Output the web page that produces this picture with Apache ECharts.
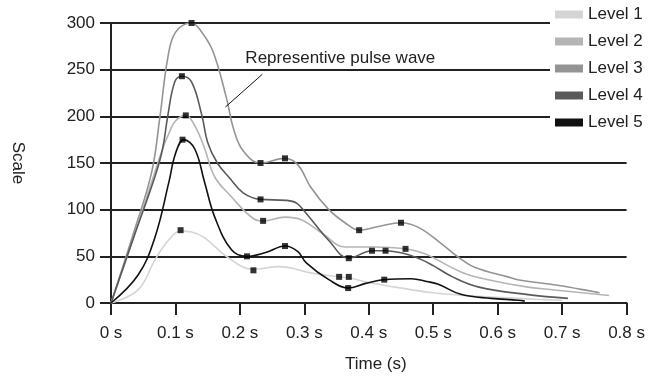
<!DOCTYPE html>
<html>
<head>
<meta charset="utf-8">
<script src="https://cdn.jsdelivr.net/npm/echarts@6/dist/echarts.min.js"></script>
<style>
html,body{margin:0;padding:0;background:#fff;}
#chart{width:648px;height:379px;}
</style>
</head>
<body>
<div id="chart"></div>
<script>
// ---- data ----
const levelNames = ['Level 1', 'Level 2', 'Level 3', 'Level 4', 'Level 5'];
const levelColors = ['#d4d4d4', '#b4b4b4', '#949494', '#5a5a5a', '#111111'];

// [time (s), scale]
const level1 = [[0,0],[0.042,14],[0.068,46],[0.09,68],[0.108,77],[0.125,76],[0.145,70],[0.181,49],[0.221,36],[0.261,39],[0.312,32],[0.354,28],[0.369,27],[0.4,22],[0.45,16],[0.5,11],[0.55,8],[0.6,6],[0.66,4],[0.7,3]];
const level2 = [[0,0],[0.035,70],[0.068,140],[0.08,165],[0.09,182],[0.1,195],[0.116,201],[0.13,190],[0.145,166],[0.161,135],[0.184,116],[0.222,90],[0.236,88],[0.27,92],[0.296,89],[0.327,75],[0.364,60],[0.41,60],[0.457,58],[0.477,55],[0.493,51],[0.544,33],[0.585,25],[0.647,17],[0.688,14],[0.773,8]];
const level3 = [[0,0],[0.035,75],[0.063,140],[0.076,200],[0.088,262],[0.1,290],[0.125,300],[0.14,291],[0.158,270],[0.179,220],[0.19,187],[0.205,163],[0.232,150],[0.27,155],[0.29,148],[0.31,124],[0.338,100],[0.363,86],[0.385,78],[0.415,82],[0.45,86],[0.477,81],[0.512,64],[0.539,49],[0.565,38],[0.616,28],[0.631,25],[0.693,19],[0.75,12],[0.758,11]];
const level4 = [[0,0],[0.035,70],[0.068,135],[0.08,165],[0.088,200],[0.099,237],[0.11,243],[0.125,237],[0.141,201],[0.15,172],[0.165,150],[0.184,134],[0.205,118],[0.232,111],[0.272,110],[0.288,107],[0.303,96],[0.338,67],[0.369,48],[0.405,56],[0.426,56],[0.455,53],[0.48,47],[0.5,40],[0.53,28],[0.571,17],[0.647,9],[0.709,5]];
const level5 = [[0,0],[0.042,30],[0.068,70],[0.09,130],[0.1,160],[0.113,175],[0.13,165],[0.145,130],[0.161,92],[0.187,57],[0.21,50],[0.24,54],[0.27,61],[0.29,55],[0.303,43],[0.338,25],[0.368,16],[0.395,21],[0.424,25],[0.466,26],[0.49,23],[0.508,20],[0.544,9],[0.59,5],[0.632,3],[0.642,2]];

// highlighted sample points (black squares)
const markerPoints = [[0.125,300],[0.110,243],[0.116,201],[0.111,175],[0.108,78],[0.232,150],[0.270,155],[0.232,111],[0.236,88],[0.211,50],[0.270,61],[0.221,35],[0.385,78],[0.45,86],[0.369,48],[0.405,56],[0.426,56],[0.457,58],[0.368,16],[0.424,25],[0.354,28],[0.369,28]];

const xTickLabels = ['0 s','0.1 s','0.2 s','0.3 s','0.4 s','0.5 s','0.6 s','0.7 s','0.8 s'];
const xTitle = 'Time (s)';
const yTitle = 'Scale';

const annotationText = 'Representive pulse wave';
const annotationTextAt = [0.2085, 262];
const annotationLine = [[0.2347, 245], [0.1776, 210]];

// ---- chart ----
const FONT = '"Liberation Sans", Arial, sans-serif';
const chart = echarts.init(document.getElementById('chart'), null, {renderer: 'canvas'});
const levelData = [level1, level2, level3, level4, level5];

const series = levelData.map((d, i) => ({
  name: levelNames[i],
  type: 'line',
  data: d,
  smooth: 0.4,
  showSymbol: false,
  symbol: 'none',
  itemStyle: {color: levelColors[i]},
  lineStyle: {color: levelColors[i], width: 1.6},
  z: 2 + i,
  silent: true
}));
series[2].markLine = {
  silent: true,
  symbol: ['none', 'none'],
  label: {show: false},
  lineStyle: {color: '#111', width: 1, type: 'solid'},
  data: [[{coord: annotationLine[0]}, {coord: annotationLine[1]}]]
};
series.push({
  name: 'markers',
  type: 'scatter',
  data: markerPoints,
  symbol: 'rect',
  symbolSize: 6,
  itemStyle: {color: '#000'},
  z: 10,
  silent: true
});

chart.setOption({
  animation: false,
  backgroundColor: '#fff',
  grid: {left: 111, right: 19, top: 23, bottom: 76, containLabel: false},
  legend: {
    data: levelNames,
    orient: 'vertical',
    left: 550,
    top: 0,
    padding: [6, 20, 10, 5],
    backgroundColor: '#fff',
    icon: 'rect',
    itemWidth: 28,
    itemHeight: 8,
    itemGap: 10,
    textStyle: {fontFamily: FONT, fontSize: 17, color: '#222', lineHeight: 17}
  },
  xAxis: {
    type: 'value',
    min: 0, max: 0.8, interval: 0.1,
    name: xTitle,
    nameLocation: 'middle',
    nameGap: 53,
    nameTextStyle: {fontFamily: FONT, fontSize: 17, color: '#222', padding: [0, 0, 0, 14]},
    axisLine: {show: true, lineStyle: {color: '#222', width: 2}},
    axisTick: {show: true, length: 12, lineStyle: {color: '#222', width: 2}},
    axisLabel: {
      margin: 22, fontFamily: FONT, fontSize: 17, color: '#222',
      formatter: (v, i) => xTickLabels[i] !== undefined ? xTickLabels[i] : ''
    },
    splitLine: {show: false}
  },
  yAxis: {
    type: 'value',
    min: 0, max: 300, interval: 50,
    name: yTitle,
    nameLocation: 'middle',
    nameRotate: -90,
    nameGap: 85,
    nameTextStyle: {fontFamily: FONT, fontSize: 17, color: '#222'},
    axisLine: {show: true, lineStyle: {color: '#222', width: 2}},
    axisTick: {show: true, length: 11, lineStyle: {color: '#222', width: 2}},
    axisLabel: {margin: 16, fontFamily: FONT, fontSize: 17, color: '#222'},
    splitLine: {show: true, lineStyle: {color: '#222', width: 2}}
  },
  series: series
});

const tp = chart.convertToPixel({gridIndex: 0}, annotationTextAt);
chart.setOption({
  graphic: [{
    type: 'text',
    x: tp[0], y: tp[1],
    silent: true,
    z: 20,
    style: {text: annotationText, font: '17px ' + FONT, fill: '#222', textAlign: 'left', textVerticalAlign: 'middle'}
  }]
});
</script>
</body>
</html>
